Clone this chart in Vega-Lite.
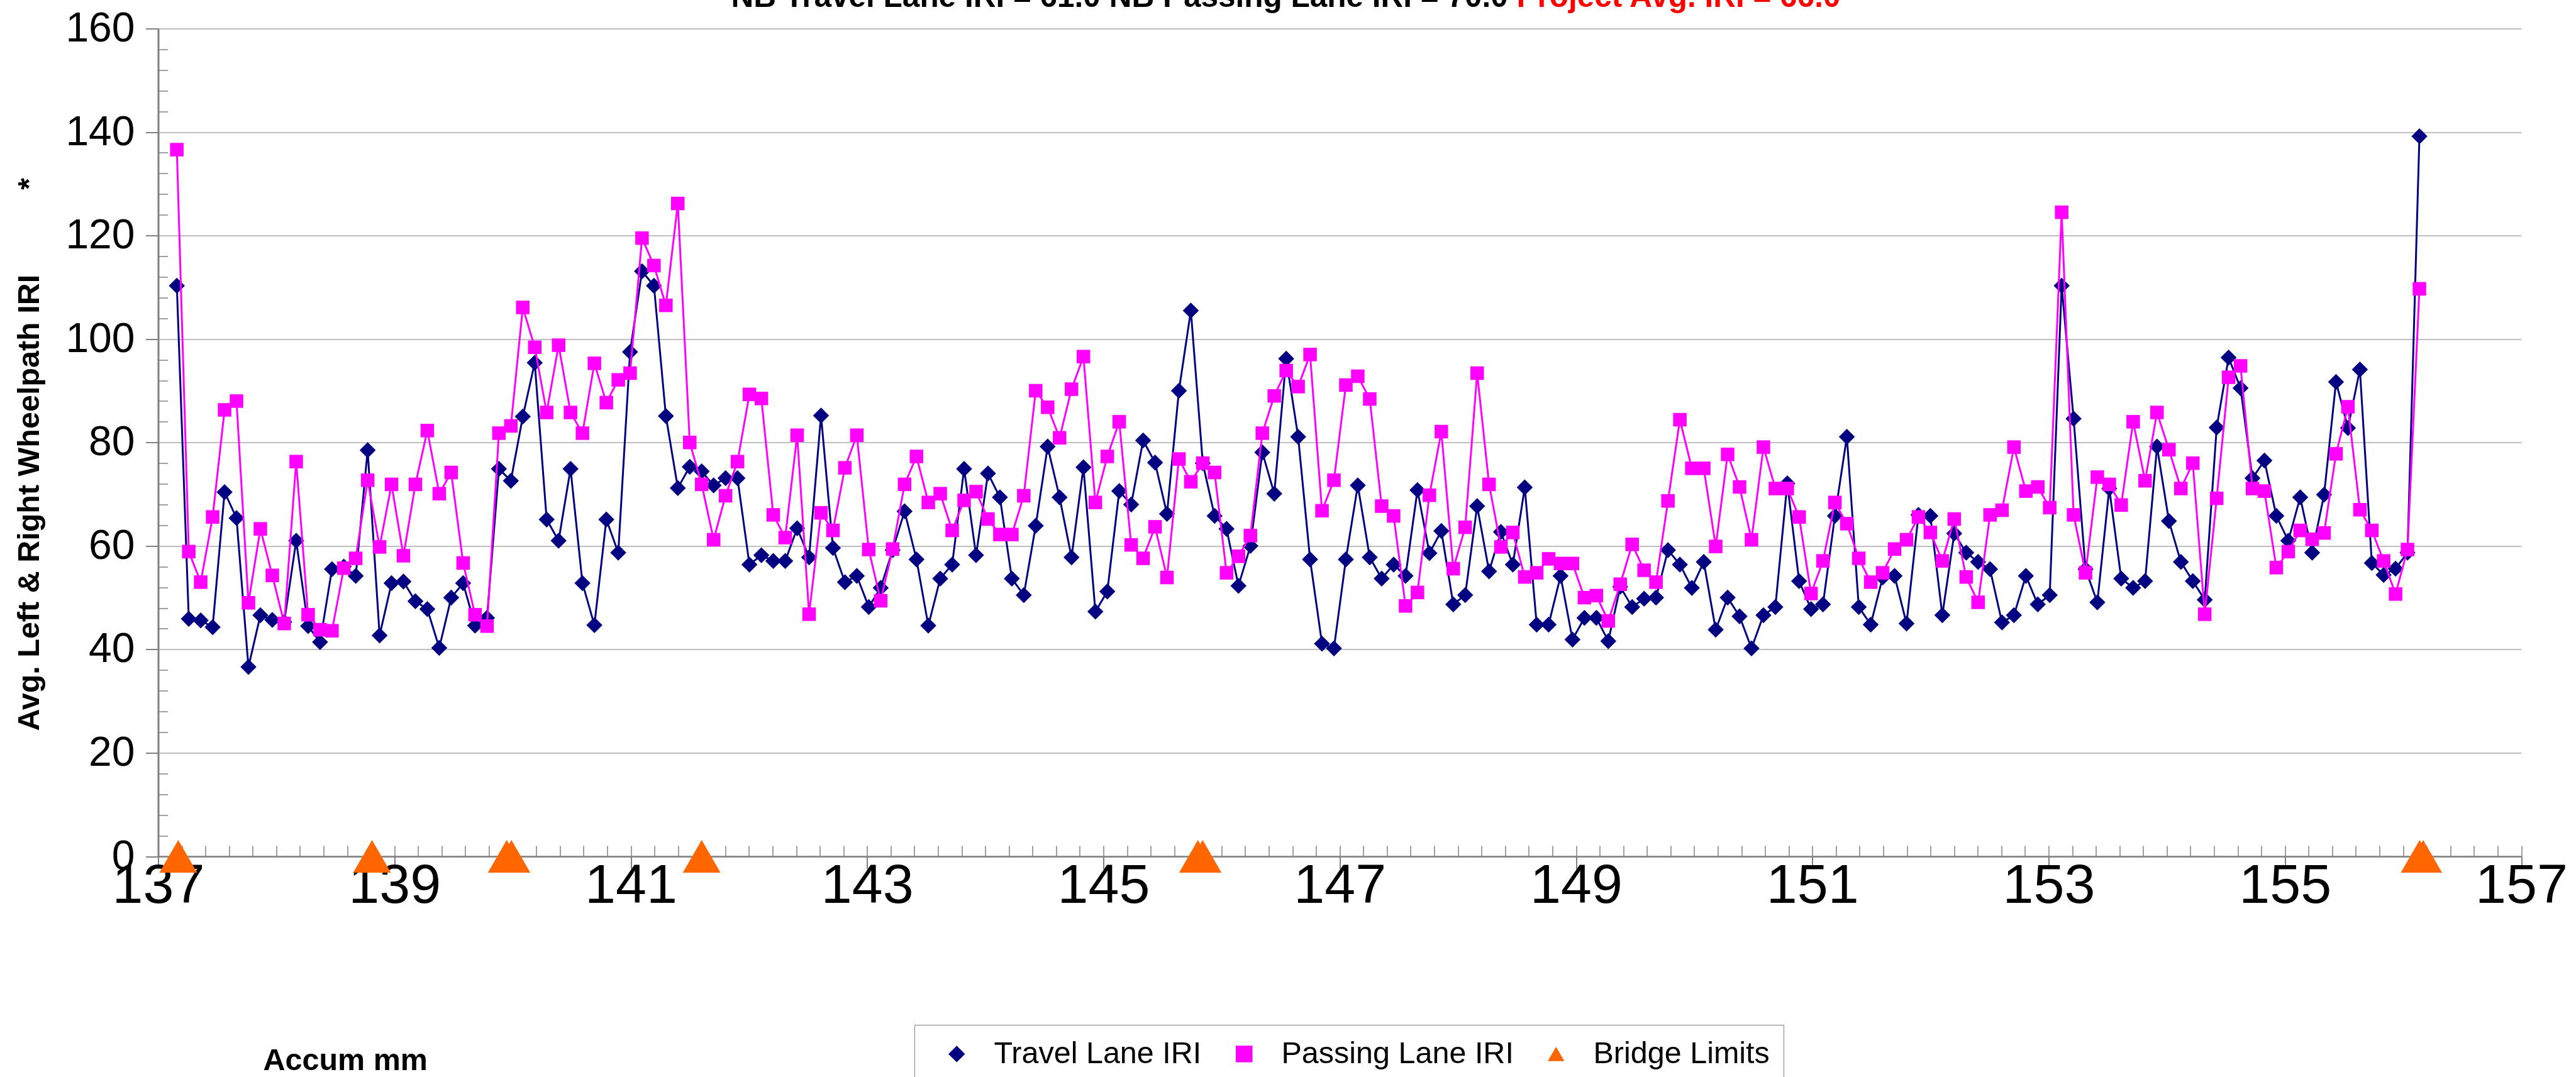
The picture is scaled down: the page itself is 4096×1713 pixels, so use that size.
{
"$schema":"https://vega.github.io/schema/vega-lite/v6.json",
"width":3757.5,"height":1316.5,
"autosize":{"type":"none"},
"padding":{"left":251.5,"top":45.5,"right":87,"bottom":351},
"background":"white",
"config":{"view":{"stroke":null},"font":"Liberation Sans"},
"datasets":{
"lanes":[
{"x":137.158,"t":110.3,"p":136.6},{"x":137.259,"t":45.9,"p":58.9},{"x":137.36,"t":45.6,"p":53.0},{"x":137.461,"t":44.3,"p":65.6},{"x":137.562,"t":70.4,"p":86.3},{"x":137.663,"t":65.4,"p":88.0},{"x":137.764,"t":36.6,"p":49.0},{"x":137.865,"t":46.6,"p":63.3},{"x":137.966,"t":45.7,"p":54.3},{"x":138.067,"t":45.3,"p":45.0},
{"x":138.168,"t":61.0,"p":76.3},{"x":138.269,"t":44.5,"p":46.7},{"x":138.37,"t":41.4,"p":43.8},{"x":138.471,"t":55.5,"p":43.6},{"x":138.571,"t":56.0,"p":55.7},{"x":138.672,"t":54.2,"p":57.6},{"x":138.773,"t":78.5,"p":72.7},{"x":138.874,"t":42.7,"p":59.8},{"x":138.975,"t":52.8,"p":71.9},{"x":139.076,"t":53.1,"p":58.1},
{"x":139.177,"t":49.3,"p":71.9},{"x":139.278,"t":47.8,"p":82.3},{"x":139.379,"t":40.3,"p":70.1},{"x":139.48,"t":50.0,"p":74.2},{"x":139.581,"t":52.8,"p":56.7},{"x":139.682,"t":44.6,"p":46.7},{"x":139.783,"t":46.1,"p":44.5},{"x":139.884,"t":74.9,"p":81.8},{"x":139.985,"t":72.6,"p":83.2},{"x":140.086,"t":85.0,"p":106.1},
{"x":140.187,"t":95.4,"p":98.4},{"x":140.288,"t":65.1,"p":85.8},{"x":140.389,"t":61.0,"p":98.8},{"x":140.49,"t":74.9,"p":85.8},{"x":140.591,"t":52.8,"p":81.8},{"x":140.692,"t":44.7,"p":95.3},{"x":140.793,"t":65.1,"p":87.7},{"x":140.894,"t":58.7,"p":92.1},{"x":140.994,"t":97.5,"p":93.4},{"x":141.095,"t":113.1,"p":119.5},
{"x":141.196,"t":110.3,"p":114.2},{"x":141.297,"t":85.1,"p":106.5},{"x":141.398,"t":71.2,"p":126.2},{"x":141.499,"t":75.3,"p":80.0},{"x":141.6,"t":74.4,"p":71.9},{"x":141.701,"t":71.7,"p":61.2},{"x":141.802,"t":73.1,"p":69.7},{"x":141.903,"t":73.1,"p":76.3},{"x":142.004,"t":56.4,"p":89.3},{"x":142.105,"t":58.2,"p":88.5},
{"x":142.206,"t":57.1,"p":66.0},{"x":142.307,"t":57.1,"p":61.6},{"x":142.408,"t":63.4,"p":81.4},{"x":142.509,"t":57.8,"p":46.8},{"x":142.61,"t":85.2,"p":66.4},{"x":142.711,"t":59.6,"p":63.0},{"x":142.812,"t":53.0,"p":75.1},{"x":142.913,"t":54.2,"p":81.4},{"x":143.014,"t":48.2,"p":59.3},{"x":143.115,"t":51.9,"p":49.4},
{"x":143.216,"t":59.2,"p":59.4},{"x":143.317,"t":66.7,"p":71.9},{"x":143.418,"t":57.4,"p":77.3},{"x":143.518,"t":44.6,"p":68.4},{"x":143.619,"t":53.7,"p":70.1},{"x":143.72,"t":56.4,"p":63.0},{"x":143.821,"t":74.9,"p":68.8},{"x":143.922,"t":58.2,"p":70.5},{"x":144.023,"t":74.0,"p":65.2},{"x":144.124,"t":69.4,"p":62.2},
{"x":144.225,"t":53.7,"p":62.2},{"x":144.326,"t":50.5,"p":69.7},{"x":144.427,"t":63.9,"p":90.0},{"x":144.528,"t":79.2,"p":86.8},{"x":144.629,"t":69.4,"p":80.9},{"x":144.73,"t":57.8,"p":90.3},{"x":144.831,"t":75.2,"p":96.6},{"x":144.932,"t":47.3,"p":68.4},{"x":145.033,"t":51.2,"p":77.3},{"x":145.134,"t":70.6,"p":84.0},
{"x":145.235,"t":68.0,"p":60.2},{"x":145.336,"t":80.4,"p":57.6},{"x":145.437,"t":76.1,"p":63.7},{"x":145.538,"t":66.2,"p":53.9},{"x":145.639,"t":90.0,"p":76.8},{"x":145.74,"t":105.5,"p":72.4},{"x":145.841,"t":76.0,"p":76.0},{"x":145.941,"t":65.8,"p":74.2},{"x":146.042,"t":63.3,"p":54.8},{"x":146.143,"t":52.3,"p":58.0},
{"x":146.244,"t":60.0,"p":62.0},{"x":146.345,"t":78.1,"p":81.8},{"x":146.446,"t":70.1,"p":89.0},{"x":146.547,"t":96.2,"p":93.9},{"x":146.648,"t":81.1,"p":90.8},{"x":146.749,"t":57.4,"p":97.0},{"x":146.85,"t":41.1,"p":66.8},{"x":146.951,"t":40.2,"p":72.7},{"x":147.052,"t":57.4,"p":91.1},{"x":147.153,"t":71.7,"p":92.8},
{"x":147.254,"t":57.8,"p":88.4},{"x":147.355,"t":53.7,"p":67.7},{"x":147.456,"t":56.4,"p":65.8},{"x":147.557,"t":54.2,"p":48.4},{"x":147.658,"t":70.8,"p":51.0},{"x":147.759,"t":58.6,"p":69.8},{"x":147.86,"t":62.9,"p":82.1},{"x":147.961,"t":48.7,"p":55.6},{"x":148.062,"t":50.5,"p":63.6},{"x":148.163,"t":67.7,"p":93.4},
{"x":148.264,"t":55.1,"p":71.9},{"x":148.364,"t":62.7,"p":59.8},{"x":148.465,"t":56.4,"p":62.6},{"x":148.566,"t":71.3,"p":54.0},{"x":148.667,"t":44.8,"p":54.8},{"x":148.768,"t":44.8,"p":57.5},{"x":148.869,"t":54.2,"p":56.6},{"x":148.97,"t":41.9,"p":56.6},{"x":149.071,"t":46.1,"p":50.0},{"x":149.172,"t":46.1,"p":50.4},
{"x":149.273,"t":41.6,"p":45.5},{"x":149.374,"t":52.1,"p":52.6},{"x":149.475,"t":48.2,"p":60.3},{"x":149.576,"t":49.8,"p":55.3},{"x":149.677,"t":50.0,"p":53.0},{"x":149.778,"t":59.2,"p":68.7},{"x":149.879,"t":56.4,"p":84.4},{"x":149.98,"t":51.9,"p":75.0},{"x":150.081,"t":56.9,"p":75.0},{"x":150.182,"t":43.8,"p":59.9},
{"x":150.283,"t":50.0,"p":77.7},{"x":150.384,"t":46.4,"p":71.4},{"x":150.485,"t":40.2,"p":61.2},{"x":150.586,"t":46.6,"p":79.1},{"x":150.687,"t":48.2,"p":71.1},{"x":150.788,"t":72.1,"p":71.1},{"x":150.888,"t":53.2,"p":65.6},{"x":150.989,"t":47.8,"p":50.8},{"x":151.09,"t":48.7,"p":57.1},{"x":151.191,"t":65.8,"p":68.4},
{"x":151.292,"t":81.1,"p":64.3},{"x":151.393,"t":48.2,"p":57.6},{"x":151.494,"t":44.8,"p":53.0},{"x":151.595,"t":53.9,"p":54.8},{"x":151.696,"t":54.2,"p":59.4},{"x":151.797,"t":45.0,"p":61.2},{"x":151.898,"t":66.0,"p":65.6},{"x":151.999,"t":65.8,"p":62.6},{"x":152.1,"t":46.6,"p":57.1},{"x":152.201,"t":62.4,"p":65.2},
{"x":152.302,"t":58.7,"p":54.0},{"x":152.403,"t":56.9,"p":49.1},{"x":152.504,"t":55.5,"p":66.0},{"x":152.605,"t":45.2,"p":66.9},{"x":152.706,"t":46.6,"p":79.1},{"x":152.807,"t":54.2,"p":70.6},{"x":152.908,"t":48.7,"p":71.4},{"x":153.009,"t":50.5,"p":67.4},{"x":153.11,"t":110.3,"p":124.5},{"x":153.211,"t":84.6,"p":66.0},
{"x":153.312,"t":55.5,"p":54.8},{"x":153.412,"t":49.1,"p":73.3},{"x":153.513,"t":71.1,"p":71.9},{"x":153.614,"t":53.7,"p":67.9},{"x":153.715,"t":51.9,"p":84.0},{"x":153.816,"t":53.2,"p":72.6},{"x":153.917,"t":79.2,"p":85.8},{"x":154.018,"t":64.8,"p":78.6},{"x":154.119,"t":56.9,"p":71.1},{"x":154.22,"t":53.2,"p":76.0},
{"x":154.321,"t":49.6,"p":46.8},{"x":154.422,"t":82.9,"p":69.2},{"x":154.523,"t":96.4,"p":92.6},{"x":154.624,"t":90.5,"p":94.8},{"x":154.725,"t":73.1,"p":71.1},{"x":154.826,"t":76.5,"p":70.6},{"x":154.927,"t":65.8,"p":55.8},{"x":155.028,"t":61.0,"p":58.9},{"x":155.129,"t":69.4,"p":63.0},{"x":155.23,"t":58.7,"p":61.3},
{"x":155.331,"t":69.9,"p":62.5},{"x":155.432,"t":91.7,"p":77.8},{"x":155.533,"t":82.8,"p":86.9},{"x":155.634,"t":94.1,"p":67.0},{"x":155.735,"t":56.7,"p":63.0},{"x":155.835,"t":54.4,"p":57.1},{"x":155.936,"t":55.6,"p":50.7},{"x":156.037,"t":58.7,"p":59.3},{"x":156.138,"t":139.2,"p":109.7}
],
"bridges":[
{"x":137.17,"series":"b","iri":0},{"x":138.81,"series":"b","iri":0},{"x":139.95,"series":"b","iri":0},{"x":139.99,"series":"b","iri":0},{"x":141.6,"series":"b","iri":0},{"x":145.8,"series":"b","iri":0},{"x":145.84,"series":"b","iri":0},{"x":156.14,"series":"b","iri":0},{"x":156.17,"series":"b","iri":0}
]
},
"resolve":{"axis":{"x":"independent","y":"independent"}},
"layer":[
{"data":{"name":"lanes"},
 "mark":{"type":"line","color":"#000080","strokeWidth":3},
 "encoding":{
  "x":{"field":"x","type":"quantitative","scale":{"domain":[137,157],"nice":false,"zero":false},
   "axis":{"orient":"bottom","values":[137,139,141,143,145,147,149,151,153,155,157],"grid":false,"labelFlush":false,"labelOverlap":false,"labelBound":false,
    "labelFont":"Liberation Sans","labelFontSize":88,"labelColor":"#000000","labelPadding":-17,
    "tickSize":20,"tickColor":"#808080","tickWidth":2,"domainColor":"#808080","domainWidth":2.5,
    "title":"Accum mm","titleFont":"Liberation Sans","titleFontSize":48.5,"titleFontWeight":"bold","titleColor":"#000000",
    "titleX":166.5,"titleY":339,"titleAlign":"left","titleBaseline":"alphabetic","titleAngle":0}},
  "y":{"field":"t","type":"quantitative","scale":{"domain":[0,160],"nice":false,"zero":false},
   "axis":{"orient":"left","values":[0,20,40,60,80,100,120,140,160],"grid":true,"gridColor":"#808080","gridWidth":1,
    "labelFont":"Liberation Sans","labelFontSize":66,"labelColor":"#000000","labelPadding":17.5,"labelFlush":false,"labelOverlap":false,"labelBound":false,
    "tickSize":20,"tickColor":"#808080","tickWidth":2,"domainColor":"#808080","domainWidth":3,
    "title":"Avg. Left & Right Wheelpath IRI\u00a0\u00a0\u00a0\u00a0\u00a0\u00a0\u00a0\u00a0\u00a0\u00a0*","titleFont":"Liberation Sans","titleFontSize":48.5,"titleFontWeight":"bold","titleColor":"#000000",
    "titleAngle":270,"titleX":-190,"titleY":1116.5,"titleAlign":"left","titleBaseline":"alphabetic"}}
 }},
{"data":{"name":"lanes"},
 "transform":[{"fold":["t"],"as":["series","iri"]}],
 "mark":{"type":"point","filled":true,"size":650,"opacity":1,"strokeWidth":0},
 "encoding":{
  "x":{"field":"x","type":"quantitative","scale":{"domain":[137,157],"nice":false,"zero":false},
   "axis":{"orient":"bottom","values":[137,137.2,137.4,137.6,137.8,138,138.2,138.4,138.6,138.8,139,139.2,139.4,139.6,139.8,140,140.2,140.4,140.6,140.8,141,141.2,141.4,141.6,141.8,142,142.2,142.4,142.6,142.8,143,143.2,143.4,143.6,143.8,144,144.2,144.4,144.6,144.8,145,145.2,145.4,145.6,145.8,146,146.2,146.4,146.6,146.8,147,147.2,147.4,147.6,147.8,148,148.2,148.4,148.6,148.8,149,149.2,149.4,149.6,149.8,150,150.2,150.4,150.6,150.8,151,151.2,151.4,151.6,151.8,152,152.2,152.4,152.6,152.8,153,153.2,153.4,153.6,153.8,154,154.2,154.4,154.6,154.8,155,155.2,155.4,155.6,155.8,156,156.2,156.4,156.6,156.8,157],
    "labels":false,"domain":false,"grid":false,"tickSize":-17,"tickColor":"#808080","tickWidth":1.5,"title":null}},
  "y":{"field":"iri","type":"quantitative","scale":{"domain":[0,160],"nice":false,"zero":false},
   "axis":{"orient":"left","values":[4,8,12,16,24,28,32,36,44,48,52,56,64,68,72,76,84,88,92,96,104,108,112,116,124,128,132,136,144,148,152,156],
    "labels":false,"domain":false,"grid":false,"tickSize":-15,"tickColor":"#808080","tickWidth":1.5,"title":null}},
  "color":{"field":"series","type":"nominal","scale":{"domain":["t","p","b"],"range":["#000080","#FF00FF","#FF6600"]},
   "legend":{"orient":"none","legendX":1202.5,"legendY":1584.5,"direction":"horizontal","title":null,
    "labelExpr":"datum.label == 't' ? 'Travel Lane IRI' : datum.label == 'p' ? 'Passing Lane IRI' : 'Bridge Limits'",
    "labelFont":"Liberation Sans","labelFontSize":48.5,"labelColor":"#000000","labelLimit":0,"symbolSize":700,"symbolStrokeWidth":0,
    "strokeColor":"#808080","fillColor":"#FFFFFF","padding":22,"symbolOffset":21,"labelOffset":35,"columnPadding":22}},
  "shape":{"field":"series","type":"nominal","scale":{"domain":["t","p","b"],"range":["diamond","square","triangle-up"]},
   "legend":{"orient":"none","legendX":1202.5,"legendY":1584.5,"direction":"horizontal","title":null,
    "labelExpr":"datum.label == 't' ? 'Travel Lane IRI' : datum.label == 'p' ? 'Passing Lane IRI' : 'Bridge Limits'",
    "labelFont":"Liberation Sans","labelFontSize":48.5,"labelColor":"#000000","labelLimit":0,"symbolSize":700,"symbolStrokeWidth":0,
    "strokeColor":"#808080","fillColor":"#FFFFFF","padding":22,"symbolOffset":21,"labelOffset":35,"columnPadding":22}}
 }},
{"data":{"name":"lanes"},
 "mark":{"type":"line","color":"#FF00FF","strokeWidth":3},
 "encoding":{
  "x":{"field":"x","type":"quantitative","scale":{"domain":[137,157],"nice":false,"zero":false},
   "axis":{"orient":"top","labels":false,"ticks":false,"domain":false,"grid":false,
    "title":"Project Avg. IRI = 66.0","titleFont":"Liberation Sans","titleFontSize":49.5,"titleFontWeight":"bold","titleColor":"#FF0000",
    "titleX":2159.5,"titleY":-35,"titleAlign":"left","titleBaseline":"alphabetic","titleAngle":0}},
  "y":{"field":"p","type":"quantitative","scale":{"domain":[0,160],"nice":false,"zero":false},"axis":null}
 }},
{"data":{"name":"lanes"},
 "transform":[{"fold":["p"],"as":["series","iri"]}],
 "mark":{"type":"point","filled":true,"size":462,"opacity":1,"strokeWidth":0},
 "encoding":{
  "x":{"field":"x","type":"quantitative","scale":{"domain":[137,157],"nice":false,"zero":false},
   "axis":{"orient":"top","labels":false,"ticks":false,"domain":false,"grid":false,
    "title":"NB Travel Lane IRI = 61.0 NB Passing Lane IRI = 70.0","titleFont":"Liberation Sans","titleFontSize":49.5,"titleFontWeight":"bold","titleColor":"#000000",
    "titleX":910.5,"titleY":-35,"titleAlign":"left","titleBaseline":"alphabetic","titleAngle":0}},
  "y":{"field":"iri","type":"quantitative","scale":{"domain":[0,160],"nice":false,"zero":false},"axis":null},
  "color":{"field":"series","type":"nominal","scale":{"domain":["t","p","b"],"range":["#000080","#FF00FF","#FF6600"]}},
  "shape":{"field":"series","type":"nominal","scale":{"domain":["t","p","b"],"range":["diamond","square","triangle-up"]}}
 }},
{"data":{"name":"bridges"},
 "mark":{"type":"point","filled":true,"size":3600,"opacity":1,"strokeWidth":0},
 "encoding":{
  "x":{"field":"x","type":"quantitative","scale":{"domain":[137,157],"nice":false,"zero":false},"axis":null},
  "y":{"field":"iri","type":"quantitative","scale":{"domain":[0,160],"nice":false,"zero":false},"axis":null},
  "color":{"field":"series","type":"nominal","scale":{"domain":["t","p","b"],"range":["#000080","#FF00FF","#FF6600"]}},
  "shape":{"field":"series","type":"nominal","scale":{"domain":["t","p","b"],"range":["diamond","square","triangle-up"]}}
 }}
]
}
